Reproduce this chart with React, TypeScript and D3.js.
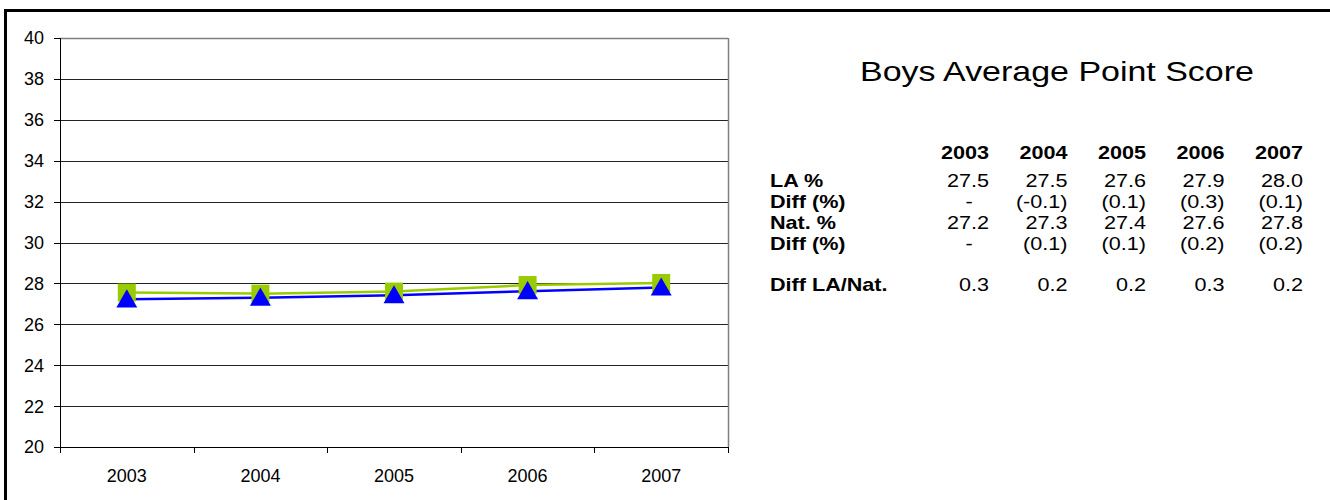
import React from 'react';
import * as d3 from 'd3';

// chart values
const years = ['2003', '2004', '2005', '2006', '2007'];
const laScores = [27.55, 27.5, 27.6, 27.92, 28.02];
const natScores = [27.22, 27.3, 27.42, 27.62, 27.8];
const yTicks = [20, 22, 24, 26, 28, 30, 32, 34, 36, 38, 40];

// table text
const rowLabels = ['LA %', 'Diff (%)', 'Nat. %', 'Diff (%)', '', 'Diff LA/Nat.'];
const laPct = ['27.5', '27.5', '27.6', '27.9', '28.0'];
const laDiff = ['-', '(-0.1)', '(0.1)', '(0.3)', '(0.1)'];
const natPct = ['27.2', '27.3', '27.4', '27.6', '27.8'];
const natDiff = ['-', '(0.1)', '(0.1)', '(0.2)', '(0.2)'];
const diffLaNat = ['0.3', '0.2', '0.2', '0.3', '0.2'];
const title = 'Boys Average Point Score';

const W = 1330, H = 500;
const font = 'Arial, "Liberation Sans", sans-serif';

export default function App() {
    const plot = {left: 60, right: 728, top: 38, bottom: 447};

    const x = d3.scaleBand().domain(years).range([plot.left, plot.right]);
    const y = d3.scaleLinear().domain([20, 40]).range([plot.bottom, plot.top]);
    const cx = (i: number) => x(years[i])! + x.bandwidth() / 2;

    const line = d3.line<number>().x((d, i) => cx(i)).y(d => y(d));
    const tri = d3.symbol().type(d3.symbolTriangle).size(190);

    // the table text in the original is stretched sideways a bit
    const sx = 1.2;
    const col = d3.scalePoint().domain(years).range([989, 1303]);
    const rowY = [187, 208, 229, 250, 271, 291];
    const rows = [laPct, laDiff, natPct, natDiff, null, diffLaNat];

    return (
        <svg width={W} height={H} style={{position: 'absolute', left: 0, top: 0, background: '#fff'}}>
            <rect x={5.5} y={10.5} width={W} height={H} fill="none" stroke="#000" strokeWidth={3} />

            {/* gridlines */}
            {yTicks.map(t => (
                <line key={'g' + t} x1={plot.left} x2={plot.right} y1={Math.round(y(t)) + 0.5} y2={Math.round(y(t)) + 0.5}
                    stroke={t === 40 ? '#808080' : '#222'} strokeWidth={t === 40 ? 1.5 : 1} />
            ))}
            <line x1={plot.right + 0.5} x2={plot.right + 0.5} y1={plot.top} y2={plot.bottom} stroke="#808080" strokeWidth={1.5} />

            {/* axes */}
            <line x1={plot.left + 0.5} x2={plot.left + 0.5} y1={plot.top} y2={plot.bottom + 0.5} stroke="#000" />
            <line x1={plot.left} x2={plot.right + 1} y1={plot.bottom + 0.5} y2={plot.bottom + 0.5} stroke="#000" />
            {yTicks.map(t => (
                <g key={'y' + t}>
                    <line x1={plot.left - 6} x2={plot.left} y1={Math.round(y(t)) + 0.5} y2={Math.round(y(t)) + 0.5} stroke="#000" />
                    <text x={44} y={y(t)} dy="0.36em" textAnchor="end" fontFamily={font} fontSize={18} fill="#000">{t}</text>
                </g>
            ))}
            {years.map(yr => (
                <line key={'xt' + yr} x1={Math.round(x(yr)!) + 0.5} x2={Math.round(x(yr)!) + 0.5}
                    y1={plot.bottom} y2={plot.bottom + 6} stroke="#000" />
            ))}
            <line x1={plot.right + 0.5} x2={plot.right + 0.5} y1={plot.bottom} y2={plot.bottom + 6} stroke="#000" />
            {years.map((yr, i) => (
                <text key={'xl' + yr} x={cx(i)} y={481.5} textAnchor="middle" fontFamily={font} fontSize={18} fill="#000">{yr}</text>
            ))}

            {/* series */}
            <path d={line(laScores)!} fill="none" stroke="#99CC00" strokeWidth={2.5} />
            <path d={line(natScores)!} fill="none" stroke="#0000FF" strokeWidth={2.5} />
            {laScores.map((v, i) => (
                <rect key={'sq' + i} x={cx(i) - 9} y={y(v) - 9} width={18} height={18} fill="#99CC00" />
            ))}
            {natScores.map((v, i) => (
                <path key={'tr' + i} d={tri()!} transform={`translate(${cx(i)},${y(v) + 2})`} fill="#0000FF" />
            ))}

            {/* title and table */}
            <g transform={`scale(${sx},1)`} fontFamily={font} fill="#000">
                <text x={1057 / sx} y={81} textAnchor="middle" fontSize={28.3}>{title}</text>
                {years.map(yr => (
                    <text key={'h' + yr} x={col(yr)! / sx} y={159} textAnchor="end" fontSize={18} fontWeight="bold">{yr}</text>
                ))}
                {rowLabels.map((lab, r) => (
                    <text key={'rl' + r} x={770 / sx} y={rowY[r]} fontSize={18} fontWeight="bold">{lab}</text>
                ))}
                {rows.map((vals, r) => vals && vals.map((v, i) => (
                    <text key={'c' + r + '-' + i} x={(v === '-' ? col(years[i])! - 20 : col(years[i])!) / sx} y={rowY[r]}
                        textAnchor={v === '-' ? 'middle' : 'end'} fontSize={18}>{v}</text>
                )))}
            </g>
        </svg>
    );
}
